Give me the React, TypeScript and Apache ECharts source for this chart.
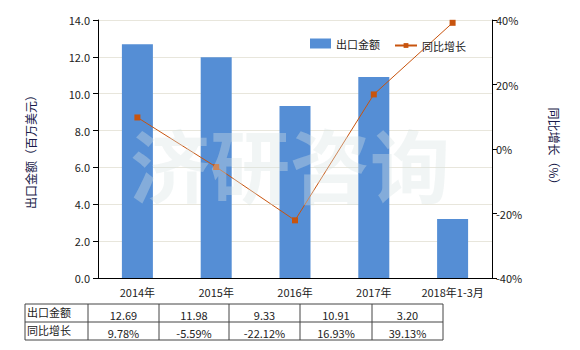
import React, { useEffect, useRef } from "react";
import * as echarts from "echarts";

const categories = ["2014年", "2015年", "2016年", "2017年", "2018年1-3月"];
const exportValues = [12.69, 11.98, 9.33, 10.91, 3.2];
const growthValues = [9.78, -5.59, -22.12, 16.93, 39.13];
const seriesNames = ["出口金额", "同比增长"];
const leftAxisName = "出口金额（百万美元）";
const rightAxisName = "同比增长（%）";
const watermark = "济研咨询";

const FONT = "'Noto Sans CJK SC', 'Microsoft YaHei', sans-serif";

export default function App() {
  const ref = useRef<HTMLDivElement>(null);
  useEffect(() => {
    if (!ref.current) return;
    const chart = echarts.init(ref.current, null, { renderer: "svg" });

    // table
    const colX = [25, 88, 159, 229, 300, 372, 443];
    const rowY = [304, 322, 340];
    const tableEls: any[] = [];
    const lineStyle = { stroke: "#444", lineWidth: 1 };
    rowY.forEach((y) =>
      tableEls.push({ type: "line", shape: { x1: colX[0], y1: y, x2: colX[6], y2: y }, style: lineStyle })
    );
    colX.forEach((x) =>
      tableEls.push({ type: "line", shape: { x1: x, y1: rowY[0], x2: x, y2: rowY[2] }, style: lineStyle })
    );
    const rows = [
      { name: seriesNames[0], vals: exportValues.map((v) => v.toFixed(2)) },
      { name: seriesNames[1], vals: growthValues.map((v) => v.toFixed(2) + "%") },
    ];
    rows.forEach((r, ri) => {
      const yMid = (rowY[ri] + rowY[ri + 1]) / 2;
      tableEls.push({
        type: "text",
        style: { text: r.name, x: colX[0] + 2, y: yMid - 1, textVerticalAlign: "middle", font: `11px ${FONT}`, fill: "#222" },
      });
      r.vals.forEach((v, ci) => {
        tableEls.push({
          type: "text",
          style: {
            text: v,
            x: (colX[ci + 1] + colX[ci + 2]) / 2,
            y: yMid + 2,
            textAlign: "center",
            textVerticalAlign: "middle",
            font: `11px ${FONT}`,
            fill: "#222",
          },
        });
      });
    });

    chart.setOption({
      animation: false,
      backgroundColor: "#fff",
      textStyle: { fontFamily: FONT },
      grid: { left: 98, right: 88, top: 20, bottom: 72 },
      legend: [
        {
          left: 305,
          top: 33,
          itemWidth: 21,
          itemHeight: 10,
          textStyle: { fontSize: 11, color: "#222" },
          data: [{ name: seriesNames[0], icon: "rect" }],
        },
        {
          left: 389,
          top: 35,
          itemWidth: 22,
          itemHeight: 6,
          textStyle: { fontSize: 11, color: "#222" },
          data: [{ name: seriesNames[1] }],
        },
      ],
      xAxis: {
        type: "category",
        data: categories,
        axisLine: { lineStyle: { color: "#000" } },
        axisTick: { alignWithLabel: true, lineStyle: { color: "#000" } },
        axisLabel: { color: "#222", fontSize: 11, margin: 8, interval: 0 },
      },
      yAxis: [
        {
          type: "value",
          min: 0,
          max: 14,
          interval: 2,
          name: leftAxisName,
          nameLocation: "middle",
          nameRotate: 90,
          nameGap: 62,
          nameTextStyle: { fontSize: 12, color: "#1a1a4a" },
          axisLine: { show: true, lineStyle: { color: "#000" } },
          axisTick: { show: true, lineStyle: { color: "#000" } },
          axisLabel: { color: "#222", fontSize: 11, formatter: (v: number) => v.toFixed(1) },
          splitLine: { lineStyle: { color: "#e8e6dc" } },
        },
        {
          type: "value",
          min: -40,
          max: 40,
          interval: 20,
          name: rightAxisName,
          nameLocation: "middle",
          nameRotate: -90,
          nameGap: 56,
          nameTextStyle: { fontSize: 12, color: "#1a1a4a" },
          axisLine: { show: true, lineStyle: { color: "#000" } },
          axisTick: { show: true, lineStyle: { color: "#000" } },
          axisLabel: { color: "#222", fontSize: 11, formatter: "{value}%", margin: 4 },
          splitLine: { show: false },
        },
      ],
      series: [
        {
          name: seriesNames[0],
          type: "bar",
          data: exportValues,
          barWidth: 31,
          itemStyle: { color: "#558ed5" },
        },
        {
          name: seriesNames[1],
          type: "line",
          yAxisIndex: 1,
          data: growthValues,
          symbol: "rect",
          symbolSize: 6,
          lineStyle: { color: "#c8540e", width: 1 },
          itemStyle: { color: "#c8540e" },
        },
      ],
      graphic: [
        {
          type: "text",
          z: 100,
          left: "center",
          top: 122,
          style: {
            text: watermark,
            font: `bold 80px ${FONT}",`.replace('",', ""),
            fill: "rgba(215,228,228,0.36)",
            letterSpacing: 14,
          },
        },
        ...tableEls,
      ],
    });
    return () => chart.dispose();
  }, []);
  return (
    <div
      ref={ref}
      style={{ position: "absolute", left: 0, top: 0, width: 580, height: 350 }}
    />
  );
}
